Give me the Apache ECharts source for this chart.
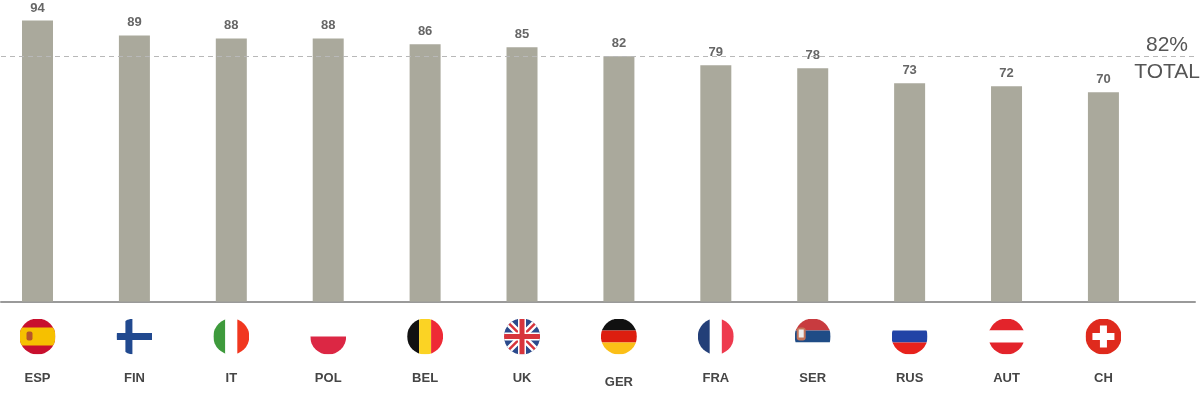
<!DOCTYPE html>
<html>
<head>
<meta charset="utf-8">
<script src="https://cdn.jsdelivr.net/npm/echarts@6/dist/echarts.min.js"></script>
<style>
  html, body { margin: 0; padding: 0; background: #fff; }
  #chart { width: 1200px; height: 400px; }
</style>
</head>
<body>
<div id="chart"></div>
<script>
var countries = ['ESP', 'FIN', 'IT', 'POL', 'BEL', 'UK', 'GER', 'FRA', 'SER', 'RUS', 'AUT', 'CH'];
var values = [94, 89, 88, 88, 86, 85, 82, 79, 78, 73, 72, 70];
var totalValue = 82;
var totalLabel = 'TOTAL';

// circular flag icons, 36x36
function flag(body) {
    var svg = '<svg xmlns="http://www.w3.org/2000/svg" width="72" height="72" viewBox="0 0 36 36">' +
        '<defs><clipPath id="c"><circle cx="18" cy="18" r="18"/></clipPath></defs>' +
        '<g clip-path="url(#c)">' + body + '</g></svg>';
    return 'data:image/svg+xml;charset=utf-8,' + encodeURIComponent(svg);
}
function hbands(a, b, c) {
    return '<rect x="0" y="0" width="36" height="12" fill="' + a + '"/>' +
        '<rect x="0" y="12" width="36" height="12" fill="' + b + '"/>' +
        '<rect x="0" y="24" width="36" height="12" fill="' + c + '"/>';
}
function vbands(a, b, c) {
    return '<rect x="0" y="0" width="12" height="36" fill="' + a + '"/>' +
        '<rect x="12" y="0" width="12" height="36" fill="' + b + '"/>' +
        '<rect x="24" y="0" width="12" height="36" fill="' + c + '"/>';
}
var flags = {
    ESP: flag('<rect width="36" height="36" fill="#c8102e"/><rect y="9" width="36" height="18" fill="#f6c000"/>' +
        '<rect x="7" y="13" width="6" height="9" rx="2" fill="#b5542a"/>'),
    FIN: flag('<rect width="36" height="36" fill="#fff"/><rect x="9" y="0" width="7" height="36" fill="#21498f"/>' +
        '<rect x="0" y="14.5" width="36" height="7" fill="#21498f"/>'),
    IT: flag(vbands('#3e9a3c', '#ffffff', '#f1371f')),
    POL: flag('<rect width="36" height="36" fill="#fff"/><rect y="18" width="36" height="18" fill="#dc2744"/>'),
    BEL: flag(vbands('#111111', '#fbd324', '#ee2a35')),
    UK: flag('<rect width="36" height="36" fill="#2b4a8c"/>' +
        '<path d="M0 0L36 36M36 0L0 36" stroke="#fff" stroke-width="7"/>' +
        '<path d="M0 0L36 36M36 0L0 36" stroke="#d7343c" stroke-width="2.5"/>' +
        '<rect x="14" y="0" width="8" height="36" fill="#fff"/><rect x="0" y="14" width="36" height="8" fill="#fff"/>' +
        '<rect x="15.5" y="0" width="5" height="36" fill="#d7343c"/><rect x="0" y="15.5" width="36" height="5" fill="#d7343c"/>'),
    GER: flag(hbands('#111111', '#dd1e0f', '#fbbf17')),
    FRA: flag(vbands('#233f78', '#ffffff', '#ee3a4e')),
    SER: flag(hbands('#c83b3f', '#1f4c86', '#ffffff') +
        '<rect x="2" y="9" width="9" height="13" rx="3" fill="#c4745a"/><rect x="4" y="11" width="5" height="8" fill="#eee"/>'),
    RUS: flag(hbands('#ffffff', '#2143a6', '#e7221c')),
    AUT: flag(hbands('#e3242b', '#ffffff', '#e3242b')),
    CH: flag('<rect width="36" height="36" fill="#df2a1d"/><rect x="14.5" y="7" width="7" height="22" fill="#fff"/>' +
        '<rect x="7" y="14.5" width="22" height="7" fill="#fff"/>')
};

var rich = {
    n: { fontSize: 13, fontWeight: 'bold', color: '#454545', fontFamily: 'Liberation Sans, Arial', padding: [17, 0, 0, 0] },
    nLow: { fontSize: 13, fontWeight: 'bold', color: '#454545', fontFamily: 'Liberation Sans, Arial', padding: [21, 0, 0, 0] }
};
countries.forEach(function (c) {
    rich['f' + c] = { width: 36, height: 36, backgroundColor: { image: flags[c] } };
});

var myChart = echarts.init(document.getElementById('chart'));
var option = {
    animation: false,
    grid: { left: 1, right: 5, top: 2.5, bottom: 98.5 },
    xAxis: {
        type: 'value',
        min: -0.3767,
        max: 11.945,
        splitLine: { show: false },
        axisTick: { show: false },
        axisLine: { show: true, onZero: false, lineStyle: { color: '#9a9a9a', width: 2 } },
        axisLabel: {
            customValues: countries.map(function (c, i) { return i; }),
            margin: 17,
            formatter: function (v) {
                var c = countries[Math.round(v)];
                if (!c) return '';
                return '{f' + c + '|}\n{' + (c === 'GER' ? 'nLow' : 'n') + '|' + c + '}';
            },
            rich: rich
        }
    },
    yAxis: {
        type: 'value',
        min: 0,
        max: 100,
        show: false
    },
    series: [
        {
            type: 'bar',
            barWidth: 31,
            data: values.map(function (v, i) { return [i, v]; }),
            itemStyle: { color: '#aaa99c' },
            label: {
                show: true,
                position: 'top',
                distance: 6,
                fontSize: 13,
                fontWeight: 'bold',
                color: '#666',
                fontFamily: 'Liberation Sans, Arial',
                formatter: function (p) { return p.value[1]; }
            },
            markLine: {
                silent: true,
                symbol: 'none',
                lineStyle: { color: '#b8b8b8', type: [5, 4], width: 1 },
                data: [
                    {
                        yAxis: totalValue,
                        label: {
                            position: 'insideEndTop',
                            formatter: totalValue + '%',
                            fontSize: 21,
                            color: '#555',
                            fontFamily: 'Liberation Sans, Arial',
                            distance: [7, 1]
                        }
                    },
                    {
                        yAxis: totalValue,
                        label: {
                            position: 'insideEndBottom',
                            formatter: totalLabel,
                            fontSize: 21,
                            color: '#555',
                            fontFamily: 'Liberation Sans, Arial',
                            distance: [-5, 5]
                        }
                    }
                ]
            }
        }
    ]
};
myChart.setOption(option);
</script>
</body>
</html>
